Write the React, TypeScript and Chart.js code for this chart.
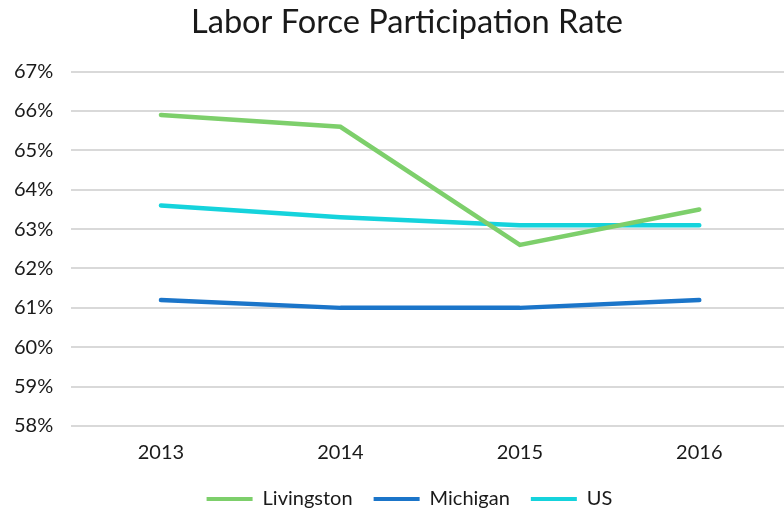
import React, { useEffect, useRef } from "react";
import { Chart, registerables } from "chart.js";

Chart.register(...registerables);

const categories = ["2013", "2014", "2015", "2016"];
const livingston = [65.9, 65.6, 62.6, 63.5];
const michigan = [61.2, 61.0, 61.0, 61.2];
const us = [63.6, 63.3, 63.1, 63.1];
const seriesNames = ["Livingston", "Michigan", "US"];
const seriesColors = ["#7DCF6B", "#1B75C9", "#15D3DC"];
const titleText = "Labor Force Participation Rate";

const CANVAS_W = 815;
const CANVAS_H = 525;

const shiftPlugin = {
  id: "shiftBoxes",
  afterLayout(chart: any) {
    const t = chart.titleBlock;
    if (t) {
      t.left += 12.5;
      t.right += 12.5;
    }
    const l = chart.legend;
    if (l) {
      l.left += 15;
      l.right += 15;
    }
  },
};

export default function App() {
  const ref = useRef<HTMLCanvasElement | null>(null);
  useEffect(() => {
    if (!ref.current) return;
    const values = [livingston, michigan, us];
    const chart = new Chart(ref.current, {
      type: "line",
      data: {
        labels: categories,
        datasets: seriesNames.map((name, i) => ({
          label: name,
          data: values[i],
          borderColor: seriesColors[i],
          backgroundColor: seriesColors[i],
          borderWidth: 4.5,
          pointRadius: 0,
          pointHoverRadius: 0,
          tension: 0,
          fill: false,
          borderCapStyle: "round" as const,
        })),
      },
      plugins: [shiftPlugin],
      options: {
        animation: false,
        responsive: false,
        maintainAspectRatio: false,
        layout: { padding: { left: 0, right: 26, top: 3, bottom: 6 } },
        plugins: {
          tooltip: { enabled: false },
          title: {
            display: true,
            text: titleText,
            color: "#1a1a1a",
            font: { family: "Lato", size: 32.6, weight: "normal" },
            padding: { top: 0, bottom: 29.5 },
          },
          legend: {
            position: "bottom",
            labels: {
              color: "#1a1a1a",
              font: { family: "Lato", size: 20 },
              boxWidth: 46,
              boxHeight: 4,
              padding: 21,
              generateLabels: (c: any) =>
                c.data.datasets.map((d: any, i: number) => ({
                  text: d.label,
                  fillStyle: d.borderColor,
                  strokeStyle: d.borderColor,
                  lineWidth: 0,
                  hidden: false,
                  datasetIndex: i,
                  fontColor: "#1a1a1a",
                })),
            },
          },
        },
        scales: {
          x: {
            offset: true,
            grid: { display: false, drawTicks: false },
            border: { display: false },
            afterFit: (s: any) => {
              s.height -= 12;
            },
            ticks: {
              color: "#1a1a1a",
              font: { family: "Lato", size: 20 },
              padding: 15,
            },
          },
          y: {
            min: 58,
            max: 67,
            grid: { color: "#d9d9d9", lineWidth: 2, drawTicks: false },
            border: { display: false },
            afterFit: (s: any) => {
              s.width -= 4;
            },
            ticks: {
              stepSize: 1,
              color: "#1a1a1a",
              font: { family: "Lato", size: 20 },
              padding: 18,
              callback: (v: any) => v + "%",
            },
          },
        },
      },
    });
    return () => chart.destroy();
  }, []);
  return (
    <div style={{ position: "absolute", left: 0, top: 0, width: 784, height: 509, overflow: "hidden", background: "#fff" }}>
      <canvas ref={ref} width={CANVAS_W} height={CANVAS_H} style={{ width: CANVAS_W, height: CANVAS_H, display: "block" }} />
    </div>
  );
}
